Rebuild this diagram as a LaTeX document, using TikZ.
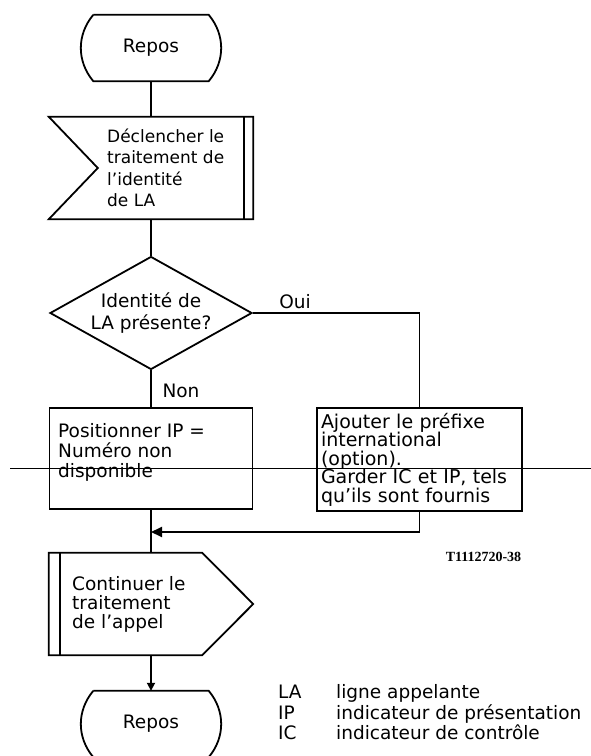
\documentclass[tikz,border=0pt]{standalone}
\usepackage{fontspec}
\setmainfont{DejaVu Sans}
\newfontfamily\codefont{Liberation Serif}
\usetikzlibrary{shapes.geometric,arrows.meta,calc}

\tikzset{
  flowline/.style={line width=1.8pt},
  stop/.style={minimum width=115pt, minimum height=66pt},
  sigbox/.style={minimum width=204pt, minimum height=102pt},
  procbox/.style={draw, line width=1.8pt, align=left, minimum height=101pt, inner xsep=9pt, text width=185pt},
  decision/.style={draw, line width=1.8pt, diamond, aspect=1.8, minimum width=202pt, minimum height=113pt, align=center},
  tip/.style={-{Triangle[length=11pt,width=10pt]}},
  smalltip/.style={-{Triangle[length=8pt,width=8pt]}}
}

\begin{document}
\begin{tikzpicture}[x=1pt, y=-1pt, every node/.style={inner sep=0pt, font=\fontsize{18.5}{22}\selectfont}]
			%%%%% START %%%%%
			\useasboundingbox (0,0) rectangle (591,756);

			\node[stop] (repos1) at (151,48) {Repos};
			\node[sigbox] (decl) at (151,168) {};
			\node[anchor=west, align=left, font=\fontsize{17}{21.5}\selectfont] (decl-t) at (107,168) {Déclencher le\\traitement de\\l'identité\\de LA};
			\node[decision] (test) at (151,313) {Identité de\\LA présente?};
			\node[procbox] (pos) at (151,458.5) {};
			\node[anchor=west, align=left, font=\fontsize{18.5}{20}\selectfont] (pos-t) at (58,452) {Positionner IP =\\Numéro non\\disponible};
			\node[procbox, text width=197pt, inner xsep=4pt, minimum height=103pt, font=\fontsize{19}{18.5}\selectfont] (ajout) at (419.5,459.5) {Ajouter le préfixe\\international\\(option).\\Garder IC et IP, tels\\qu'ils sont fournis};
			\node[sigbox] (cont) at (151,604) {};
			\node[anchor=west, align=left, font=\fontsize{18.5}{19}\selectfont] (cont-t) at (72,604) {Continuer le\\traitement\\de l'appel};
			\node[stop] (repos2) at (151,724) {Repos};

			\node (oui) at (295,302) {Oui};
			\node (non) at (181,391) {Non};
			\node[font=\codefont\bfseries\fontsize{14}{16}\selectfont] (ref) at (483.5,557) {T1112720-38};

			\node[anchor=west, align=left, font=\fontsize{18.5}{20.5}\selectfont] (abbr) at (278,712.5) {LA\\IP\\IC};
			\node[anchor=west, align=left, font=\fontsize{18.5}{20.5}\selectfont] (expl) at (336,712.5) {ligne appelante\\indicateur de présentation\\indicateur de contrôle};

			% outlines
			\foreach \n in {repos1,repos2}
				\draw[flowline] (\n.north west) -- (\n.north east) to[bend left=40] (\n.south east) -- (\n.south west) to[bend left=40] (\n.north west);
			\draw[flowline] (decl.north west) -- (decl.north east) -- (decl.south east) -- (decl.south west) -- ($(decl.west)+(49,0)$) -- cycle;
			\draw[flowline] ([xshift=-9pt]decl.north east) -- ([xshift=-9pt]decl.south east);
			\draw[flowline] (cont.north west) -- ($(cont.north east)+(-51,0)$) -- (cont.east) -- ($(cont.south east)+(-51,0)$) -- (cont.south west) -- cycle;
			\draw[flowline] ([xshift=11pt]cont.north west) -- ([xshift=11pt]cont.south west);

			% connectors
			\coordinate (merge) at (151,532);
			\draw[flowline] (repos1.south) -- (decl.north);
			\draw[flowline] (decl.south) -- (test.north);
			\draw[flowline] (test.south) -- (pos.north);
			\draw[flowline] (test.east) -| (ajout.north);
			\draw[flowline] (pos.south) -- (cont.north);
			\draw[flowline, tip] (ajout.south) |- (merge);
			\draw[flowline, smalltip] (cont.south) -- (repos2.north);

			\draw[line width=1pt] (10,468) -- (591,468);
			%%%%% END %%%%%
\end{tikzpicture}
\end{document}
